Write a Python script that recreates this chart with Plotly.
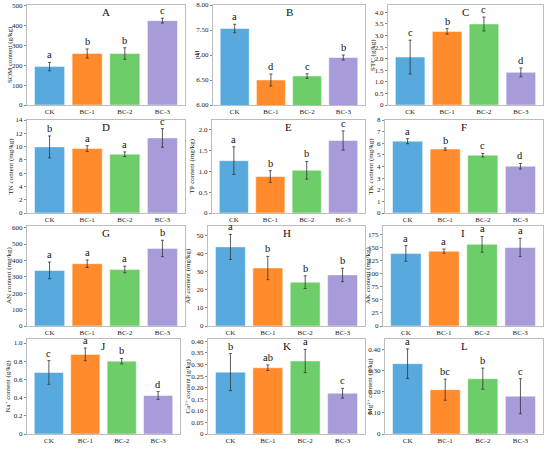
import plotly.graph_objects as go

categories = ["CK", "BC-1", "BC-2", "BC-3"]
bar_colors = ["#58a9dd", "#ff8b2c", "#6ccd69", "#a89bd9"]

# A: SOM
som_mean = [194, 260, 260, 426]
som_err = [21, 23, 29, 12]
som_letters = ["a", "b", "b", "c"]
# B: pH
ph_mean = [7.53, 6.50, 6.58, 6.95]
ph_err = [0.085, 0.12, 0.045, 0.05]
ph_letters = ["a", "d", "c", "b"]
# C: STC
stc_mean = [2.07, 3.18, 3.50, 1.41]
stc_err = [0.73, 0.12, 0.30, 0.19]
stc_letters = ["c", "b", "c", "d"]
# D: TN
tn_mean = [9.95, 9.7, 8.85, 11.3]
tn_err = [1.65, 0.43, 0.35, 1.4]
tn_letters = ["b", "a", "a", "c"]
# E: TP
tp_mean = [1.25, 0.87, 1.02, 1.73]
tp_err = [0.33, 0.14, 0.21, 0.23]
tp_letters = ["a", "b", "b", "c"]
# F: TK
tk_mean = [6.18, 5.5, 4.97, 4.02]
tk_err = [0.22, 0.1, 0.15, 0.24]
tk_letters = ["a", "b", "c", "d"]
# G: AN
an_mean = [339, 380, 345, 473]
an_err = [51, 23, 20, 50]
an_letters = ["a", "a", "a", "b"]
# H: AP
ap_mean = [43.5, 31.9, 24.1, 28.1]
ap_err = [6.9, 6.4, 3.5, 3.7]
ap_letters = ["a", "b", "b", "b"]
# I: AK
ak_mean = [138.6, 143, 156, 150]
ak_err = [15, 4, 15, 17.5]
ak_letters = ["a", "a", "a", "a"]
# J: Na+
na_mean = [0.676, 0.875, 0.80, 0.423]
na_err = [0.13, 0.07, 0.03, 0.043]
na_letters = ["c", "a", "b", "d"]
# K: Ca2+
ca_mean = [0.267, 0.286, 0.315, 0.176]
ca_err = [0.08, 0.012, 0.05, 0.021]
ca_letters = ["b", "ab", "a", "c"]
# L: Mg2+
mg_mean = [0.333, 0.21, 0.262, 0.179]
mg_err = [0.07, 0.05, 0.05, 0.083]
mg_letters = ["a", "bc", "b", "c"]

panels = [
    dict(t="A", yl="SOM content (g/kg)", m=som_mean, e=som_err, l=som_letters,
         yr=[0, 505], tv=[0, 100, 200, 300, 400, 500], tt=None, px=(27, 185), tx=10, row=0),
    dict(t="B", yl="pH", m=ph_mean, e=ph_err, l=ph_letters,
         yr=[6.0, 8.0], tv=[6.0, 6.5, 7.0, 7.5, 8.0], tt=["6.00", "6.50", "7.00", "7.50", "8.00"],
         px=(213, 365), tx=197, row=0),
    dict(t="C", yl="STC (g/kg)", m=stc_mean, e=stc_err, l=stc_letters,
         yr=[0, 4.32], tv=[0, 0.5, 1, 1.5, 2, 2.5, 3, 3.5, 4],
         tt=["0", "0.5", "1.0", "1.5", "2.0", "2.5", "3.0", "3.5", "4.0"], px=(388, 543), tx=373, row=0),
    dict(t="D", yl="TN content (mg/kg)", m=tn_mean, e=tn_err, l=tn_letters,
         yr=[0, 14], tv=[0, 2, 4, 6, 8, 10, 12, 14], tt=None, px=(27, 185), tx=10, row=1),
    dict(t="E", yl="TP content (mg/kg)", m=tp_mean, e=tp_err, l=tp_letters,
         yr=[0, 2.22], tv=[0, 0.5, 1, 1.5, 2], tt=["0", "0.5", "1.0", "1.5", "2.0"],
         px=(212, 365), tx=191, row=1),
    dict(t="F", yl="TK content (mg/kg)", m=tk_mean, e=tk_err, l=tk_letters,
         yr=[0, 8], tv=[0, 1, 2, 3, 4, 5, 6, 7, 8], tt=None, px=(385, 543), tx=370, row=1),
    dict(t="G", yl="AN content (mg/kg)", m=an_mean, e=an_err, l=an_letters,
         yr=[0, 610], tv=[0, 100, 200, 300, 400, 500, 600], tt=None, px=(27, 185), tx=9, row=2),
    dict(t="H", yl="AP content (mg/kg)", m=ap_mean, e=ap_err, l=ap_letters,
         yr=[0, 55], tv=[0, 10, 20, 30, 40, 50], tt=None, px=(208, 365), tx=188, row=2),
    dict(t="I", yl="AK content (mg/kg)", m=ak_mean, e=ak_err, l=ak_letters,
         yr=[0, 191], tv=[0, 25, 50, 75, 100, 125, 150, 175], tt=None, px=(383, 543), tx=368, row=2),
    dict(t="J", yl="Na<sup>+</sup> content (g/kg)", m=na_mean, e=na_err, l=na_letters,
         yr=[0, 1.044], tv=[0, 0.2, 0.4, 0.6, 0.8, 1.0], tt=["0", "0.2", "0.4", "0.6", "0.8", "1.0"],
         px=(27, 180), tx=8, row=3),
    dict(t="K", yl="Ca<sup>2+</sup> content (g/kg)", m=ca_mean, e=ca_err, l=ca_letters,
         yr=[0, 0.41], tv=[0, 0.05, 0.1, 0.15, 0.2, 0.25, 0.3, 0.35, 0.4],
         tt=["0", "0.05", "0.10", "0.15", "0.20", "0.25", "0.30", "0.35", "0.40"],
         px=(208, 365), tx=188, row=3),
    dict(t="L", yl="Mg<sup>2+</sup> content (g/kg)", m=mg_mean, e=mg_err, l=mg_letters,
         yr=[0, 0.45], tv=[0, 0.1, 0.2, 0.3, 0.4], tt=["0", "0.10", "0.20", "0.30", "0.40"],
         px=(385, 543), tx=370, row=3),
]

rows_px = [(5, 105), (120, 213), (226, 326), (339, 434)]
W, H = 550, 450
FONT = "Liberation Serif"
frame = "#bdbdbd"

fig = go.Figure()
layout = dict(width=W, height=H, margin=dict(l=0, r=0, t=0, b=0, autoexpand=False),
              paper_bgcolor="white", plot_bgcolor="white", showlegend=False,
              font=dict(family=FONT, color="#222", size=7), bargap=0.2)
annotations = []

for i, p in enumerate(panels):
    n = i + 1
    xa = "x" if n == 1 else f"x{n}"
    ya = "y" if n == 1 else f"y{n}"
    top, bot = rows_px[p["row"]]
    fig.add_trace(go.Bar(
        x=categories, y=p["m"], xaxis=xa, yaxis=ya,
        marker=dict(color=bar_colors, line=dict(color="rgba(255,255,255,0.6)", width=0.8)),
        error_y=dict(type="data", array=p["e"], color="#333", thickness=0.8, width=1.5),
        hoverinfo="skip",
    ))
    xkey = "xaxis" if n == 1 else f"xaxis{n}"
    ykey = "yaxis" if n == 1 else f"yaxis{n}"
    layout[xkey] = dict(domain=[p["px"][0] / W, p["px"][1] / W], anchor=ya,
                        type="category", range=[-0.6, 3.6], automargin=False,
                        showline=True, mirror=True, linecolor=frame, linewidth=1,
                        ticks="", tickfont=dict(size=7, family=FONT), fixedrange=True)
    yd = dict(domain=[1 - bot / H, 1 - top / H], anchor=xa, range=p["yr"], automargin=False,
              tickvals=p["tv"], showline=True, mirror=True, linecolor=frame, linewidth=1,
              ticks="outside", ticklen=2, tickcolor="#888", showgrid=False, zeroline=False,
              tickfont=dict(size=7, family=FONT), fixedrange=True)
    if p["tt"] is not None:
        yd["ticktext"] = p["tt"]
    layout[ykey] = yd
    # y-axis title as rotated text
    annotations.append(dict(x=p["tx"] / W, y=1 - (top + bot) / 2 / H, xref="paper", yref="paper",
                            text=p["yl"], textangle=-90, showarrow=False,
                            xanchor="center", yanchor="middle",
                            font=dict(size=7, family=FONT, color="#222")))
    for c, m, e, l in zip(categories, p["m"], p["e"], p["l"]):
        annotations.append(dict(x=c, y=m + e, xref=xa, yref=ya, text=l, showarrow=False,
                                yanchor="bottom", yshift=0,
                                font=dict(size=10.5, family=FONT, color="#111")))
    annotations.append(dict(x=0.5, y=1, xref=f"{xa} domain", yref=f"{ya} domain",
                            text=p["t"], showarrow=False, yanchor="top", yshift=1,
                            font=dict(size=11, family=FONT, color="#111")))

layout["annotations"] = annotations
fig.update_layout(**layout)
fig.write_html("out.html", config={"displayModeBar": False},
               post_script="document.body.style.margin='0';document.body.style.padding='0';")
